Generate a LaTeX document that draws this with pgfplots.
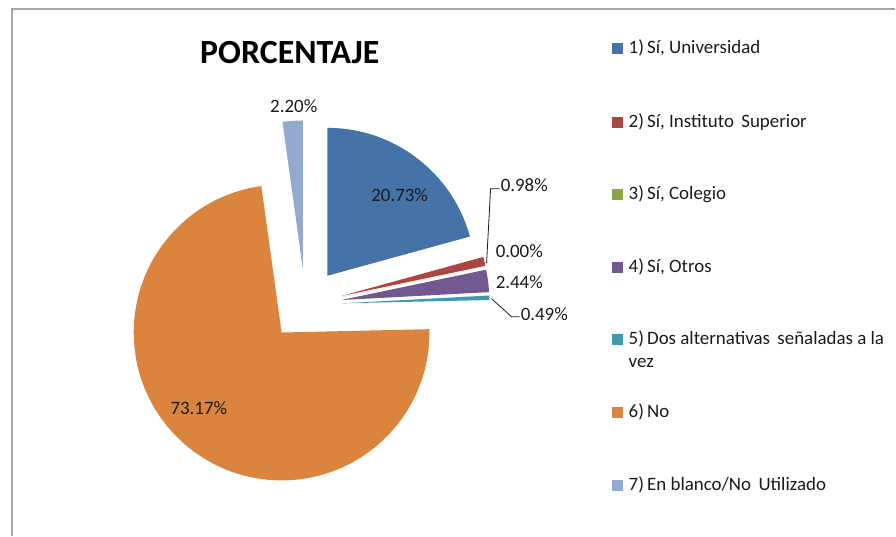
\documentclass[border=0pt]{standalone}
\usepackage{fontspec}
\setmainfont{Carlito}
\usepackage{pgfplots}
\usepackage{pgfplotstable}
\pgfplotsset{compat=1.18}

\definecolor{pie0}{HTML}{4572A7}
\definecolor{pie1}{HTML}{AA4643}
\definecolor{pie2}{HTML}{89A54E}
\definecolor{pie3}{HTML}{71588F}
\definecolor{pie4}{HTML}{4198AF}
\definecolor{pie5}{HTML}{DB843D}
\definecolor{pie6}{HTML}{93A9CF}
\definecolor{txt}{HTML}{1A1A1A}

% share of each answer, in percent
\pgfplotstableread{
pct
20.73
0.98
0.00
2.44
0.49
73.17
2.20
}\piedata

\begin{document}
\begin{tikzpicture}
% slice angles, clockwise from 12 o'clock, every slice pushed out along its bisector
\def\cum{0}
\pgfplotsforeachungrouped \i in {0,...,6}{%
  \pgfplotstablegetelem{\i}{pct}\of\piedata
  \let\v\pgfplotsretval
  \pgfmathsetmacro\ta{\cum*3.6}%
  \pgfmathsetmacro\tb{(\cum+\v)*3.6}%
  \pgfmathsetmacro\tm{(\ta+\tb)/2}%
  \pgfmathsetmacro\pa{90-\ta}%
  \pgfmathsetmacro\pb{90-\tb}%
  \pgfmathsetmacro\px{305.5+36.5*sin(\tm)}%
  \pgfmathsetmacro\py{305-36.5*cos(\tm)}%
  \expandafter\xdef\csname pieA\i\endcsname{\pa}%
  \expandafter\xdef\csname pieB\i\endcsname{\pb}%
  \expandafter\xdef\csname pieX\i\endcsname{\px}%
  \expandafter\xdef\csname pieY\i\endcsname{\py}%
  \pgfmathsetmacro\cum{\cum+\v}%
  \xdef\cum{\cum}%
}
\begin{axis}[
  x=1bp, y=1bp, y dir=reverse,
  xmin=0, xmax=896, ymin=0, ymax=536,
  hide axis, clip=false,
]
\path (axis cs:0,0) rectangle (axis cs:896,536);
% chart area frame
\draw[gray!70, line width=1.5bp] (axis cs:12,536) -- (axis cs:12,9) -- (axis cs:896,9);

\pgfplotsinvokeforeach{0,...,6}{
  \fill[pie#1] (axis cs:\csname pieX#1\endcsname,\csname pieY#1\endcsname)
    -- ++(\csname pieA#1\endcsname:148bp)
    arc[start angle=\csname pieA#1\endcsname, end angle=\csname pieB#1\endcsname, radius=148bp]
    -- cycle;
}

% title
\node[font=\fontsize{34}{40}\selectfont\bfseries, text=black] at (axis cs:290,53) {PORCENTAJE};

% data labels
\begin{scope}[every node/.style={font=\fontsize{19}{22}\selectfont, text=txt, inner sep=0pt}]
\node at (axis cs:294,106) {2.20\%};
\node at (axis cs:400,195) {20.73\%};
\node at (axis cs:199,408) {73.17\%};
\node[anchor=west] at (axis cs:501,185) {0.98\%};
\node[anchor=west] at (axis cs:496,251) {0.00\%};
\node[anchor=west] at (axis cs:496,282) {2.44\%};
\node[anchor=west] at (axis cs:521,314) {0.49\%};
\end{scope}
\draw[txt, line width=0.8bp] (axis cs:487,263) -- (axis cs:491,189) -- (axis cs:500,189);
\draw[txt, line width=0.8bp] (axis cs:492,299) -- (axis cs:512,317) -- (axis cs:520,317);

% legend
\begin{scope}[every node/.style={font=\fontsize{19}{22}\selectfont, text=txt, inner sep=0pt, anchor=west}]
\fill[pie0] (axis cs:613,43) rectangle (axis cs:624,54);
\node at (axis cs:629,48) {1)\,Sí, Universidad};
\fill[pie1] (axis cs:613,117) rectangle (axis cs:624,128);
\node at (axis cs:629,122) {2)\,Sí, Instituto\, Superior};
\fill[pie2] (axis cs:613,189) rectangle (axis cs:624,200);
\node at (axis cs:629,194) {3)\,Sí, Colegio};
\fill[pie3] (axis cs:613,262) rectangle (axis cs:624,273);
\node at (axis cs:629,267) {4)\,Sí, Otros};
\fill[pie4] (axis cs:613,334) rectangle (axis cs:624,345);
\node at (axis cs:629,339) {5)\,Dos alternativas\, señaladas a la};
\node at (axis cs:629,363) {vez};
\fill[pie5] (axis cs:613,407) rectangle (axis cs:624,418);
\node at (axis cs:629,412) {6)\,No};
\fill[pie6] (axis cs:613,480) rectangle (axis cs:624,491);
\node at (axis cs:629,485) {7)\,En blanco/No\, Utilizado};
\end{scope}
\end{axis}
\end{tikzpicture}
\end{document}
